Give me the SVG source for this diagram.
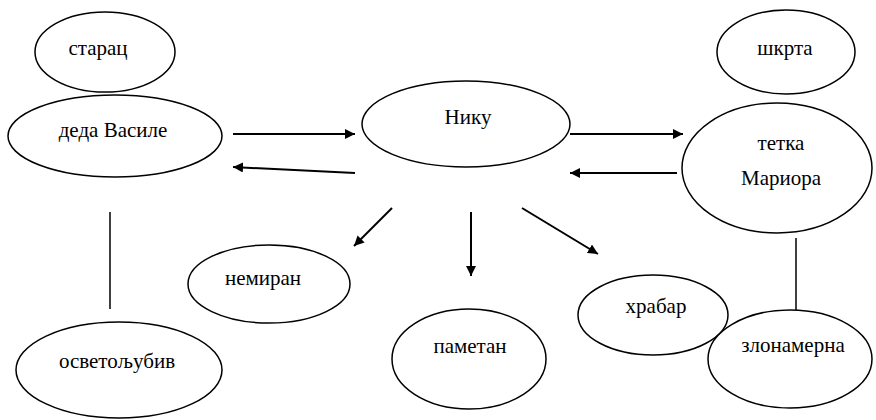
<svg xmlns="http://www.w3.org/2000/svg" width="876" height="420" viewBox="0 0 876 420">
<defs>
<marker id="ah" viewBox="0 0 10 10" refX="10" refY="5" markerWidth="10" markerHeight="10" markerUnits="userSpaceOnUse" orient="auto">
<path d="M0,0 L10,5 L0,10 z" fill="#000"/>
</marker>
<style>
ellipse{fill:#fff;stroke:#000;stroke-width:1.5}
text{font-size:21px;fill:#000;text-anchor:middle}
.c line{stroke:#000;stroke-width:2}
.c line.a{marker-end:url(#ah)}
.c line.p{stroke-width:1.5}
</style>
</defs>
<rect width="876" height="420" fill="#fff"/>
<g class="c" id="connectors">
<line class="a" x1="233" y1="134" x2="355" y2="134"/>
<line class="a" x1="355" y1="173" x2="233" y2="167"/>
<line class="a" x1="570" y1="134" x2="683" y2="134"/>
<line class="a" x1="677" y1="173" x2="570" y2="173"/>
<line class="a" x1="392" y1="208" x2="354" y2="246"/>
<line class="a" x1="471" y1="212" x2="471" y2="276"/>
<line class="a" x1="522" y1="208" x2="598" y2="254"/>
<line class="p" x1="110" y1="212" x2="110" y2="309"/>
<line class="p" x1="796" y1="238" x2="796" y2="310"/>
</g>
<g id="n-starac"><ellipse cx="105" cy="52" rx="70" ry="40"/><text x="98" y="55" font-family="Liberation Serif">старац</text></g>
<g id="n-deda"><ellipse cx="115" cy="136" rx="107" ry="41"/><text x="113" y="137" font-family="Liberation Serif">деда Василе</text></g>
<g id="n-niku"><ellipse cx="466" cy="124" rx="104" ry="43"/><text x="468" y="124" font-family="Liberation Serif">Нику</text></g>
<g id="n-shkrta"><ellipse cx="786" cy="52" rx="69" ry="42"/><text x="785" y="55" font-family="Liberation Serif">шкрта</text></g>
<g id="n-tetka"><ellipse cx="777" cy="168" rx="95" ry="65"/><text x="781" y="150" font-family="Liberation Serif">тетка</text><text x="781" y="185" font-family="Liberation Serif">Мариора</text></g>
<g id="n-nemiran"><ellipse cx="269" cy="284" rx="81" ry="39"/><text x="263" y="285" font-family="Liberation Serif">немиран</text></g>
<g id="n-osvet"><ellipse cx="119" cy="370" rx="103" ry="48"/><text x="117" y="368" font-family="Liberation Serif">осветољубив</text></g>
<g id="n-pametan"><ellipse cx="469" cy="359" rx="77" ry="50"/><text x="470" y="353" font-family="Liberation Serif">паметан</text></g>
<g id="n-hrabar"><ellipse cx="653" cy="315" rx="75" ry="40"/><text x="656" y="313" font-family="Liberation Serif">храбар</text></g>
<g id="n-zlonam"><ellipse cx="790" cy="359" rx="82" ry="49"/><text x="793" y="352" font-family="Liberation Serif">злонамерна</text></g>
</svg>
